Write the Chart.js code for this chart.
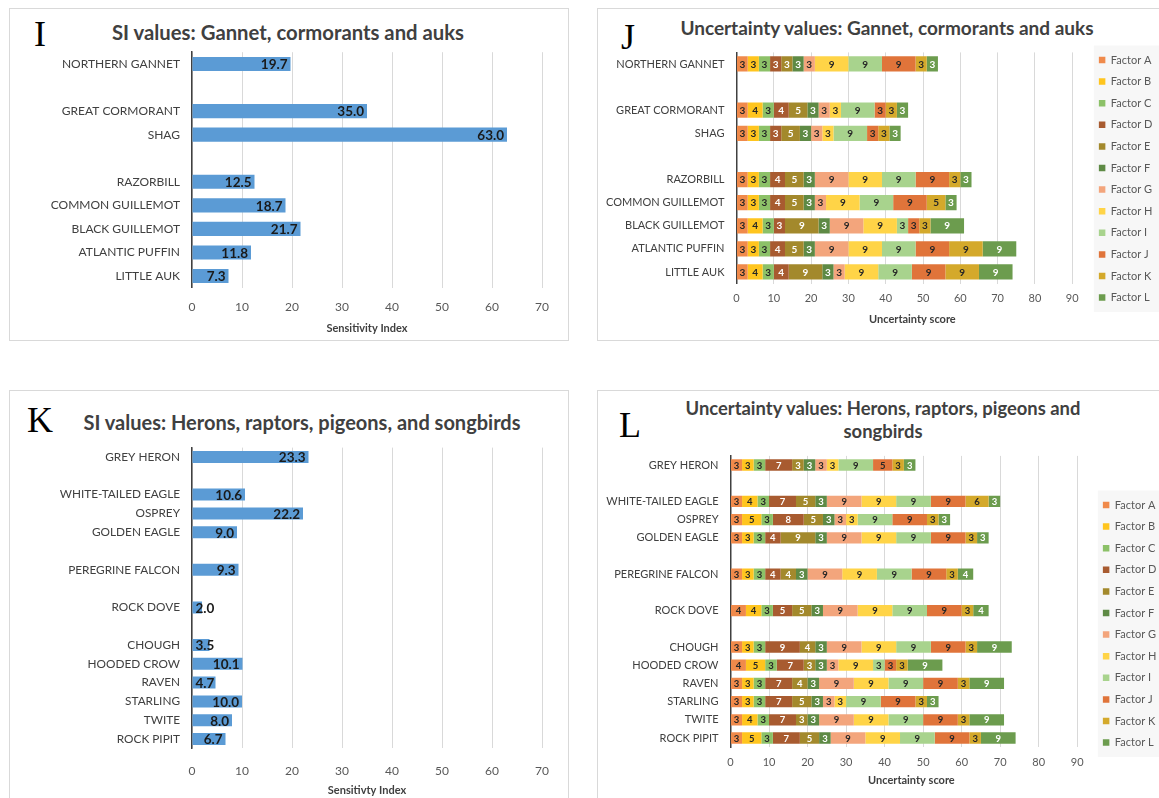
<!DOCTYPE html>
<html>
<head>
<meta charset="utf-8">
<script src="https://cdn.jsdelivr.net/npm/chart.js@4.4.1/dist/chart.umd.min.js"></script>
<style>
  html, body { margin:0; padding:0; background:#fff; }
  body { width:1159px; height:798px; overflow:hidden; position:relative; font-family:Lato, sans-serif; }
  .panel { position:absolute; border:1px solid #d9d9d9; box-sizing:border-box; background:#fff; }
  .letter { position:absolute; font-family:'Liberation Serif', serif; font-size:36px; line-height:1; color:#000; }
  .title { position:absolute; font-family:Lato, sans-serif; font-weight:bold; color:#404040; text-align:center; white-space:nowrap; }
  canvas { position:absolute; }
</style>
</head>
<body>
<div class="panel" style="left:9px;top:8px;width:560px;height:333px;"></div>
<div class="panel" style="left:597px;top:8px;width:570px;height:333px;"></div>
<div class="panel" style="left:9px;top:390px;width:560px;height:420px;"></div>
<div class="panel" style="left:597px;top:390px;width:570px;height:420px;"></div>

<div class="letter" style="left:34px;top:16px;">I</div>
<div class="letter" style="left:621px;top:19px;">J</div>
<div class="letter" style="left:27px;top:402px;">K</div>
<div class="letter" style="left:619px;top:407px;">L</div>

<div class="title" style="left:78px;width:420px;top:19px;font-size:20.3px;line-height:26px;">SI values: Gannet, cormorants and auks</div>
<div class="title" style="left:637px;width:500px;top:16px;font-size:19px;line-height:24px;">Uncertainty values: Gannet, cormorants and auks</div>
<div class="title" style="left:42px;width:520px;top:409px;font-size:20px;line-height:26px;">SI values: Herons, raptors, pigeons, and songbirds</div>
<div class="title" style="left:643px;width:480px;top:397px;font-size:18.4px;line-height:23px;">Uncertainty values: Herons, raptors, pigeons and<br>songbirds</div>

<canvas id="cI" width="559" height="332" style="left:9px;top:8px;"></canvas>
<canvas id="cJ" width="580" height="332" style="left:597px;top:8px;"></canvas>
<canvas id="cK" width="559" height="408" style="left:9px;top:390px;"></canvas>
<canvas id="cL" width="580" height="408" style="left:597px;top:390px;"></canvas>

<script>
// ---------------- DATA ----------------
const catsGannet = ["NORTHERN GANNET", "", "GREAT CORMORANT", "SHAG", "", "RAZORBILL",
  "COMMON GUILLEMOT", "BLACK GUILLEMOT", "ATLANTIC PUFFIN", "LITTLE AUK"];
const siGannet = [19.7, null, 35.0, 63.0, null, 12.5, 18.7, 21.7, 11.8, 7.3];

const catsHeron = ["GREY HERON", "", "WHITE-TAILED EAGLE", "OSPREY", "GOLDEN EAGLE", "",
  "PEREGRINE FALCON", "", "ROCK DOVE", "", "CHOUGH", "HOODED CROW", "RAVEN", "STARLING",
  "TWITE", "ROCK PIPIT"];
const siHeron = [23.3, null, 10.6, 22.2, 9.0, null, 9.3, null, 2.0, null, 3.5, 10.1, 4.7, 10.0, 8.0, 6.7];

const factors = ["Factor A", "Factor B", "Factor C", "Factor D", "Factor E", "Factor F",
  "Factor G", "Factor H", "Factor I", "Factor J", "Factor K", "Factor L"];

// uncertainty scores per species (Factor A..L), null = spacer row
const uncGannet = [
  [3,3,3,3,3,3,3,9,9,9,3,3],   // NORTHERN GANNET
  null,
  [3,4,3,4,5,3,3,3,9,3,3,3],   // GREAT CORMORANT
  [3,3,3,3,5,3,3,3,9,3,3,3],   // SHAG
  null,
  [3,3,3,4,5,3,9,9,9,9,3,3],   // RAZORBILL
  [3,3,3,4,5,3,3,9,9,9,5,3],   // COMMON GUILLEMOT
  [3,4,3,3,9,3,9,9,3,3,3,9],   // BLACK GUILLEMOT
  [3,3,3,4,5,3,9,9,9,9,9,9],   // ATLANTIC PUFFIN
  [3,4,3,4,9,3,3,9,9,9,9,9]    // LITTLE AUK
];
const uncHeron = [
  [3,3,3,7,3,3,3,3,9,5,3,3],   // GREY HERON
  null,
  [3,4,3,7,5,3,9,9,9,9,6,3],   // WHITE-TAILED EAGLE
  [3,5,3,8,5,3,3,3,9,9,3,3],   // OSPREY
  [3,3,3,4,9,3,9,9,9,9,3,3],   // GOLDEN EAGLE
  null,
  [3,3,3,4,4,3,9,9,9,9,3,4],   // PEREGRINE FALCON
  null,
  [4,4,3,5,5,3,9,9,9,9,3,4],   // ROCK DOVE
  null,
  [3,3,3,9,4,3,9,9,9,9,3,9],   // CHOUGH
  [4,5,3,7,3,3,3,9,3,3,3,9],   // HOODED CROW
  [3,3,3,7,4,3,9,9,9,9,3,9],   // RAVEN
  [3,3,3,7,5,3,3,3,9,9,3,3],   // STARLING
  [3,4,3,7,3,3,9,9,9,9,3,9],   // TWITE
  [3,5,3,7,5,3,9,9,9,9,3,9]    // ROCK PIPIT
];
const siTicks = [0, 10, 20, 30, 40, 50, 60, 70];
const uncTicks = [0, 10, 20, 30, 40, 50, 60, 70, 80, 90];

// ---------------- STYLES ----------------
const factorColors = ['#F08A4B','#FFC51E','#8CC168','#A85B30','#A3892C','#5E8A45',
                      '#F3A57C','#FFD447','#A8D38D','#E0743A','#D4A92B','#6C9C4E'];
const lightText = [false,false,false,true,true,true,false,false,false,false,false,true];

const siLabels = {
  id: 'siLabels',
  afterDatasetsDraw(chart) {
    const ctx = chart.ctx;
    const meta = chart.getDatasetMeta(0);
    const ds = chart.data.datasets[0];
    ctx.save();
    ctx.font = 'bold 13.5px Lato';
    ctx.fillStyle = '#1a1a1a';
    ctx.textBaseline = 'middle';
    ctx.textAlign = 'right';
    meta.data.forEach((b, i) => {
      const v = ds.data[i];
      if (v == null) return;
      const t = v.toFixed(1);
      const w = ctx.measureText(t).width;
      const x = Math.max(b.x - 3, b.base + 3 + w);
      ctx.fillText(t, x, b.y + 1);
    });
    ctx.restore();
  }
};

const stackLabels = {
  id: 'stackLabels',
  afterDatasetsDraw(chart, args, opts) {
    const ctx = chart.ctx;
    ctx.save();
    ctx.font = 'bold ' + opts.size + 'px Lato';
    ctx.textBaseline = 'middle';
    ctx.textAlign = 'center';
    chart.data.datasets.forEach((ds, k) => {
      const meta = chart.getDatasetMeta(k);
      ctx.fillStyle = lightText[k] ? '#ffffff' : '#262626';
      meta.data.forEach((b, i) => {
        const v = ds.data[i];
        if (v == null) return;
        ctx.fillText(String(v), (b.x + b.base) / 2, b.y + 0.5);
      });
    });
    ctx.restore();
  }
};

const legendBg = {
  id: 'legendBg',
  beforeDraw(chart, args, opts) {
    const lg = chart.legend;
    if (!lg || !lg.legendHitBoxes || !lg.legendHitBoxes.length) return;
    const hb = lg.legendHitBoxes;
    const ctx = chart.ctx;
    const top = hb[0].top - 9;
    const bot = hb[hb.length - 1].top + hb[hb.length - 1].height + 9;
    ctx.save();
    ctx.fillStyle = '#f7f7f7';
    ctx.fillRect(hb[0].left - 5, top, chart.width - hb[0].left + 5, bot - top);
    ctx.restore();
  }
};

function siChart(id, cats, vals, o) {
  new Chart(document.getElementById(id), {
    type: 'bar',
    data: { labels: cats, datasets: [{ data: vals, backgroundColor: '#5B9BD5', borderWidth: 0,
      barPercentage: o.bp, categoryPercentage: 1 }] },
    options: {
      indexAxis: 'y', responsive: false, animation: false,
      layout: { padding: { left: 0, right: o.padR, top: o.padT, bottom: 0 } },
      plugins: { legend: { display: false }, tooltip: { enabled: false } },
      scales: {
        x: {
          min: siTicks[0], max: siTicks[siTicks.length - 1],
          afterBuildTicks: s => { s.ticks = siTicks.map(v => ({ value: v })); },
          ticks: { color: '#595959', font: { family: 'Lato', size: 12 }, padding: o.tickPad },
          grid: { color: '#d9d9d9', drawTicks: false },
          border: { display: false },
          title: { display: true, text: o.xTitle, color: '#404040',
            font: { family: 'Lato', size: 11, weight: 'bold' }, padding: { top: 0, bottom: o.titlePad } },
          afterFit: s => { s.height = o.xH; }
        },
        y: {
          ticks: { color: '#404040', font: { family: 'Lato', size: o.catSize }, padding: o.catPad, autoSkip: false },
          grid: { display: false, drawTicks: false },
          border: { color: '#404040', width: 1.5 },
          afterFit: s => { s.width = o.yW; }
        }
      }
    },
    plugins: [siLabels]
  });
}

function uncChart(id, cats, rows, o) {
  const datasets = factors.map((f, k) => ({
    label: f,
    data: rows.map(r => r ? r[k] : null),
    backgroundColor: factorColors[k],
    borderWidth: 0,
    barPercentage: o.bp, categoryPercentage: 1
  }));
  const scales = {
    x: {
      stacked: true, min: 0, max: o.max,
      afterBuildTicks: s => { s.ticks = uncTicks.map(v => ({ value: v })); },
      ticks: { color: '#595959', font: { family: 'Lato', size: 11 }, padding: o.tickPad },
      grid: { color: '#d9d9d9', drawTicks: false },
      border: { display: false },
      title: { display: true, text: 'Uncertainty score', color: '#404040',
        font: { family: 'Lato', size: 11, weight: 'bold' }, padding: { top: 0, bottom: o.titlePad } },
      afterFit: s => { s.height = o.xH; }
    },
    y: {
      stacked: true,
      ticks: { color: '#404040', font: { family: 'Lato', size: o.catSize }, padding: o.catPad, autoSkip: false },
      grid: { display: false, drawTicks: false },
      border: { color: '#404040', width: 1.5 },
      afterFit: s => { s.width = o.yW; }
    }
  };
  if (o.topH) {
    scales.xTop = { type: 'linear', position: 'top', display: true,
      ticks: { display: false }, grid: { display: false, drawTicks: false }, border: { display: false },
      afterFit: s => { s.height = o.topH; } };
  }
  new Chart(document.getElementById(id), {
    type: 'bar',
    data: { labels: cats, datasets },
    options: {
      indexAxis: 'y', responsive: false, animation: false,
      layout: { padding: { left: 0, right: o.padR, top: o.padT, bottom: 0 } },
      plugins: {
        tooltip: { enabled: false },
        legend: {
          display: true, position: 'right', align: 'start', maxWidth: 75,
          labels: { boxWidth: 6.5, boxHeight: 6.5, padding: 10.6, color: '#595959',
            font: { family: 'Lato', size: 11 } },
          title: o.legT ? { display: true, text: ' ', font: { size: 10, lineHeight: 1 },
            padding: { top: 0, bottom: o.legT - 10 } } : { display: false }
        },
        stackLabels: { size: o.lblSize }
      },
      scales
    },
    plugins: [legendBg, stackLabels]
  });
}

siChart('cI', catsGannet, siGannet, { bp: 0.6, padR: 26, padT: 44.2, xH: 52.2, yW: 183,
  tickPad: 12, titlePad: 5.4, catSize: 12, catPad: 12, xTitle: 'Sensitivity Index' });
siChart('cK', catsHeron, siHeron, { bp: 0.64, padR: 26, padT: 57.6, xH: 49.6, yW: 183,
  tickPad: 16, titlePad: 1.4, catSize: 11.8, catPad: 12, xTitle: 'Sensitivty Index' });
uncChart('cJ', catsGannet, uncGannet, { bp: 0.66, padR: 14.6, padT: 35.9, topH: 8.5, xH: 56.45,
  yW: 139.5, max: 94.3, tickPad: 8.5, titlePad: 14.4, catSize: 11, catPad: 12, lblSize: 10, legT: 0 });
uncChart('cL', catsHeron, uncHeron, { bp: 0.62, padR: 10.6, padT: 65.9, topH: 0, xH: 50.9,
  yW: 133.5, max: 93.9, tickPad: 9, titlePad: 11.4, catSize: 11, catPad: 12, lblSize: 9.5, legT: 33 });
</script>
</body>
</html>
